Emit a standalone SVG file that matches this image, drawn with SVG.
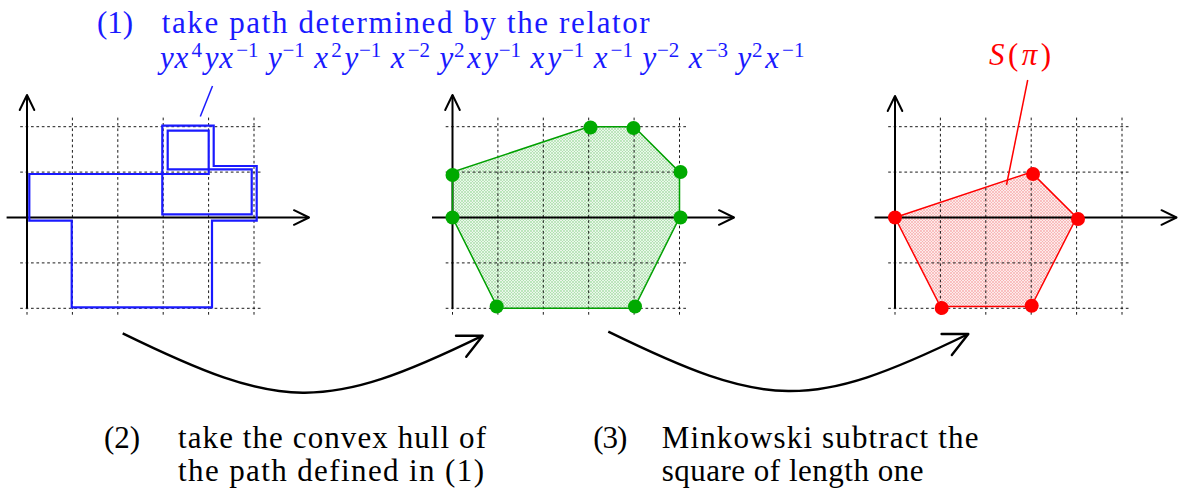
<svg xmlns="http://www.w3.org/2000/svg" width="1180" height="495" viewBox="0 0 1180 495">
<style>
.i{font-style:italic}
.s{font-size:21px;font-style:normal}
.grid{stroke:#000;stroke-width:0.9;stroke-dasharray:2.7 2.7;fill:none}
.axis{stroke:#000;stroke-width:2;fill:none;marker-end:url(#axhead)}
.conn{stroke:#000;stroke-width:2.4;fill:none;marker-end:url(#bighead)}
.gdot{fill:#00aa00}
.rdot{fill:#ff0000}
</style>
<defs>
<marker id="axhead" markerUnits="userSpaceOnUse" markerWidth="20" markerHeight="20" refX="0" refY="0" orient="auto" overflow="visible">
<path d="M-15,-7.3 L0,0 L-15,7.3" fill="none" stroke="#000" stroke-width="2" stroke-linecap="round" stroke-linejoin="round"/>
</marker>
<marker id="bighead" markerUnits="userSpaceOnUse" markerWidth="30" markerHeight="30" refX="0" refY="0" orient="auto" overflow="visible">
<path d="M-24,-11.7 L0,0 L-24,11.7" fill="none" stroke="#000" stroke-width="2.4" stroke-linecap="round" stroke-linejoin="round"/>
</marker>
<pattern id="gfill" width="3" height="3" patternUnits="userSpaceOnUse">
<rect width="3" height="3" fill="#eaf7ea"/>
<path d="M0,0 L3,3 M3,0 L0,3" stroke="#98d898" stroke-width="0.55"/>
</pattern>
<pattern id="rfill" width="3" height="3" patternUnits="userSpaceOnUse">
<rect width="3" height="3" fill="#fdeaea"/>
<path d="M0,0 L3,3 M3,0 L0,3" stroke="#f6a0a0" stroke-width="0.55"/>
</pattern>
<g id="gridlines">
<path class="grid" d="M0,-99.9 V99.9 M45.4,-99.9 V99.9 M90.8,-99.9 V99.9 M136.2,-99.9 V99.9 M181.6,-99.9 V99.9 M227,-99.9 V99.9 M-6.8,-90.8 H236.1 M-6.8,-45.4 H236.1 M-6.8,0 H236.1 M-6.8,45.4 H236.1 M-6.8,90.8 H236.1"/>
</g>
</defs>

<g id="panel1">
<use href="#gridlines" x="27" y="217.5"/>
<path class="axis" d="M6.6,217.5 H309"/>
<path class="axis" d="M27,308.3 V95"/>
<path d="M29.3,220.7 V174 H208.7 V130.7 H167.7 V169.3 H251.7 V214.3 H162.3 V125.7 H213.7 V166 H256.7 V220.7 H212 V307.3 H71.7 V220.7 Z" fill="none" stroke="#1a1aff" stroke-width="2.2" stroke-linejoin="miter"/>
</g>

<g id="panel2">
<polygon points="452.5,217.5 452.5,172.1 588.7,126.7 634.1,126.7 679.5,172.1 679.5,217.5 634.1,308.3 497.9,308.3" fill="url(#gfill)" stroke="none"/>
<use href="#gridlines" x="452.5" y="217.5"/>
<path class="axis" d="M432,217.5 H734"/>
<path class="axis" d="M452.5,308.3 V95"/>
<polygon points="452.5,217.5 452.5,172.1 588.7,126.7 634.1,126.7 679.5,172.1 679.5,217.5 634.1,308.3 497.9,308.3" fill="none" stroke="#00a000" stroke-width="1.5"/>
<circle class="gdot" cx="452.5" cy="217.5" r="7"/>
<circle class="gdot" cx="452.5" cy="175" r="7"/>
<circle class="gdot" cx="590.5" cy="127.5" r="7"/>
<circle class="gdot" cx="633.5" cy="128" r="7"/>
<circle class="gdot" cx="680.5" cy="172" r="7"/>
<circle class="gdot" cx="680.5" cy="217.5" r="7"/>
<circle class="gdot" cx="635" cy="306.5" r="7"/>
<circle class="gdot" cx="496.7" cy="306.5" r="7"/>
</g>

<g id="panel3">
<polygon points="895,217.5 1031.2,172.1 1076.6,217.5 1031.2,306.5 940.4,306.5" fill="url(#rfill)" stroke="none"/>
<use href="#gridlines" x="895" y="217.5"/>
<path class="axis" d="M874.6,217.5 H1176.5"/>
<path class="axis" d="M895,308.3 V96"/>
<polygon points="895,217.5 1031.2,172.1 1076.6,217.5 1031.2,306.5 940.4,306.5" fill="none" stroke="#ff0000" stroke-width="1.5"/>
<circle class="rdot" cx="895" cy="217.5" r="7"/>
<circle class="rdot" cx="1033" cy="174" r="7"/>
<circle class="rdot" cx="1078" cy="219" r="7"/>
<circle class="rdot" cx="1031.7" cy="305.7" r="7"/>
<circle class="rdot" cx="941.7" cy="308" r="7"/>
</g>

<g id="label1" fill="#1a1aff" font-family="'Liberation Serif', serif" font-size="31">
<text x="97" y="33" textLength="36">(1)</text>
<text x="161.7" y="33" textLength="488">take path determined by the relator</text>
<text class="i"><tspan x="160" y="68">y</tspan><tspan x="174.5" y="68">x</tspan><tspan class="s" x="191.4" y="57">4</tspan><tspan x="204.7" y="68">y</tspan><tspan x="219.2" y="68">x</tspan><tspan class="s" x="236.2" y="57">−1</tspan><tspan x="268" y="68">y</tspan><tspan class="s" x="282.5" y="57">−1</tspan><tspan x="314.3" y="68">x</tspan><tspan class="s" x="331.2" y="57">2</tspan><tspan x="344.5" y="68">y</tspan><tspan class="s" x="359" y="57">−1</tspan><tspan x="390.8" y="68">x</tspan><tspan class="s" x="407.7" y="57">−2</tspan><tspan x="439.5" y="68">y</tspan><tspan class="s" x="454" y="57">2</tspan><tspan x="467.3" y="68">x</tspan><tspan x="484.2" y="68">y</tspan><tspan class="s" x="498.7" y="57">−1</tspan><tspan x="530.5" y="68">x</tspan><tspan x="547.4" y="68">y</tspan><tspan class="s" x="561.9" y="57">−1</tspan><tspan x="593.7" y="68">x</tspan><tspan class="s" x="610.6" y="57">−1</tspan><tspan x="642.4" y="68">y</tspan><tspan class="s" x="656.9" y="57">−2</tspan><tspan x="688.7" y="68">x</tspan><tspan class="s" x="705.6" y="57">−3</tspan><tspan x="737.4" y="68">y</tspan><tspan class="s" x="751.9" y="57">2</tspan><tspan x="765.2" y="68">x</tspan><tspan class="s" x="782.1" y="57">−1</tspan></text>
<line x1="212.5" y1="86" x2="200.3" y2="116.5" stroke="#1a1aff" stroke-width="1.5"/>
</g>

<g id="label-spi" fill="#ff0000" font-family="'Liberation Serif', serif" font-size="31">
<text x="989" y="65" textLength="62"><tspan class="i">S</tspan>(<tspan class="i">π</tspan>)</text>
<line x1="1027.7" y1="80" x2="1006.5" y2="185" stroke="#ff0000" stroke-width="1.5"/>
</g>

<g id="label2" fill="#000" font-family="'Liberation Serif', serif" font-size="31">
<text x="104" y="448" textLength="36">(2)</text>
<text x="178" y="448" textLength="308">take the convex hull of</text>
<text x="178" y="481" textLength="306">the path defined in (1)</text>
</g>

<g id="label3" fill="#000" font-family="'Liberation Serif', serif" font-size="31">
<text x="593.3" y="448" textLength="34">(3)</text>
<text x="661.7" y="448" textLength="316.7">Minkowski subtract the</text>
<text x="661.7" y="481" textLength="261.7">square of length one</text>
</g>

<g id="connectors">
<path class="conn" d="M122.7,333.3 C281.7,410.9 323.6,413.3 482.7,335.7"/>
<path class="conn" d="M608.3,331.7 C767.3,409.3 809.2,411.6 968.3,334"/>
</g>
</svg>
